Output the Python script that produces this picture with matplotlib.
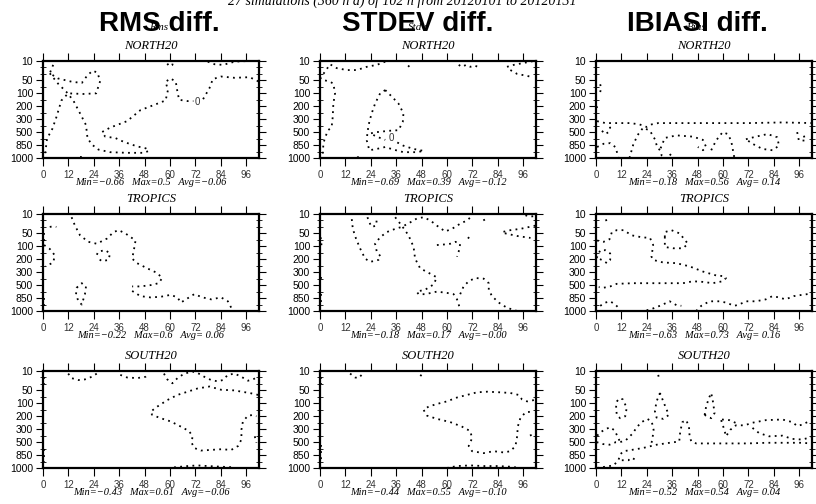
import numpy as np
import matplotlib.pyplot as plt

# pressure levels (plotted by index, 10 hPa at top)
levels = [10, 20, 30, 50, 70, 100, 150, 200, 250, 300, 400, 500, 700, 850, 925, 1000]
label_levels = [10, 50, 100, 200, 300, 500, 850, 1000]
hours = [0, 12, 24, 36, 48, 60, 72, 84, 96]

columns = ['RMS diff.', 'STDEV diff.', 'IBIASI diff.']
subnames = ['Rms', 'Stdv', 'Bias']
regions = ['NORTH20', 'TROPICS', 'SOUTH20']

stats = [
    ['Min=\u22120.66   Max=0.5   Avg=\u22120.06', 'Min=\u22120.69   Max=0.39   Avg=\u22120.12', 'Min=\u22120.18   Max=0.56   Avg= 0.14'],
    ['Min=\u22120.22   Max=0.6   Avg= 0.06', 'Min=\u22120.18   Max=0.17   Avg=\u22120.00', 'Min=\u22120.63   Max=0.73   Avg= 0.16'],
    ['Min=\u22120.43   Max=0.61   Avg=\u22120.06', 'Min=\u22120.44   Max=0.55   Avg=\u22120.10', 'Min=\u22120.52   Max=0.54   Avg= 0.04'],
]

# zero contours: (forecast hour, level index)
rms_north = [
    [(4.8,0.6),(3.2,1.9),(7.1,2.7),(13.5,3.2),(18.3,3.4),(21,2.2),(23.5,1.5),(25.7,1.8),(27,3.1),(25.1,5.0),(19,5.1),(11.9,5.0),(8.7,6.1),(6.3,8.7),(4.4,10.5),(1.9,12.0),(0.8,14.9)],
    [(3.2,1.9),(7.1,3.5),(11.1,4.8),(14.3,6.1),(17.5,8.1),(20.3,9.9),(21,11.9),(23,12.9),(26.2,13.7),(31.7,14.1),(39.7,14.2),(47.6,14.2),(50,13.9),(48.5,13.5),(44.4,13.2),(38.1,12.5),(34.1,11.9),(29.4,11.7),(27.8,11.0),(31.7,10.3),(39.7,9.3),(46,7.6),(53.2,6.7),(57.9,6.1),(59,4.5),(57.9,3.2),(60.3,2.7),(62.7,3.2),(63.5,4.8),(64.3,6.0),(68.3,6.2),(71,6.2)],
    [(75.6,5.9),(78.6,4.2),(80.2,2.8),(84.1,2.4),(90.5,2.6),(97.6,2.5),(102,3.2)],
    [(58.7,0.4),(59.5,0.8),(61.1,0.6),(61.3,0.3)],
    [(77.8,0.1),(81,0.5),(84.9,0.6),(87.3,0.4),(90.5,0.1),(96.8,0.0),(102,0.0)],
    [(17.5,14.85),(18.5,14.85)],
]
std_north = [
    [(30.8,0.1),(26.8,0.6),(22.1,0.9),(17.4,1.4),(12.6,1.4),(7.9,1.1),(4.7,0.5),(3.5,1.1),(1.6,2.0),(0.3,2.7)],
    [(2.4,3.0),(4.7,3.2),(6.3,3.5),(7.1,5.0),(6.3,6.6),(6,8.7),(5.5,10.2),(3.9,10.7),(2.4,11.8),(1.6,12.8),(1.3,14.4),(1.3,14.9)],
    [(30.8,4.5),(33.9,5.5),(37.1,6.6),(39.4,8.1),(39.1,9.4),(37.1,10.7),(32.3,10.8),(26.8,11.0),(23.7,11.2),(26.8,11.7),(30.8,12.2)],
    [(36.5,12.6),(39.4,13.1),(44.2,13.6),(48.9,13.9)],
    [(30.8,4.5),(28.4,5.0),(26,6.6),(24.4,8.1),(23.3,9.4),(22.4,11.0),(22.1,12.3),(23.3,13.8),(26.8,13.6),(30.8,13.3),(34.7,13.7),(39.4,14.1),(45.7,14.1),(48.9,13.9)],
    [(41.6,0.7),(42.2,0.9)],
    [(65.5,0.6),(67,0.9),(69,0.6),(71,0.9),(73,0.7),(74.5,0.9)],
    [(88.3,0.9),(91.5,0.6),(96.2,0.3),(100.9,0.0)],
    [(89.9,1.4),(93.1,2.0),(97.8,2.3),(100.2,2.5)],
    [(17.5,14.9),(18.5,14.85)],
]
bias_north = [
    [(2.0,3.6),(2.4,4.3),(1.8,5.0)],
    [(0.3,7.0),(0.6,7.4)],
    [(0.5,9.3),(4.4,9.6),(9.8,9.6),(16.1,9.6),(20.5,9.8),(23.9,10.2),(26.3,9.8),(29.4,9.6),(41.1,9.6),(56.7,9.6),(72.3,9.6),(88,9.5),(102,9.6)],
    [(15.8,15.0),(17.7,12.8),(20,11.3),(22.3,10.3),(25.5,10.8),(27.8,12.1),(28.9,13.3),(30.2,13.8),(31,14.6),(32.5,14.9)],
    [(2.8,10.8),(4.4,11.3),(5.9,11.0),(6.7,10.3),(5.2,10.0)],
    [(0.5,13.3),(3.6,12.8),(6.7,12.7),(9.1,13.3),(10.2,14.4),(10.6,15.0)],
    [(34.8,14.4),(36.4,14.9)],
    [(30.5,13.5),(32.5,11.9),(38,11.5),(45.8,11.7),(50.5,12.2),(52,13.3),(50.5,13.8),(48.1,13.3)],
    [(54.4,13.8),(56.7,12.3),(59.8,11.0),(62.2,11.3),(63.8,12.3),(65.3,14.9)],
    [(70.8,12.1),(75.5,11.7),(81,11.3),(85.6,11.8),(86.4,13.1),(83.3,13.8),(78.6,13.6),(73.9,12.8),(70.8,12.1)],
    [(95,11.0),(95.8,12.3),(98.9,12.3),(98.1,11.5)],
]
rms_trop = [
    [(3.2,2.0),(4.8,1.9),(6.3,2.0)],
    [(0.4,3.0),(0.4,4.5)],
    [(0.4,13.0),(0.4,14.5)],
    [(0.5,4.8),(3.2,5.4),(5.6,6.4),(4.8,7.5),(2.4,7.9),(1.2,8.1)],
    [(13.5,0.5),(15.1,1.8),(17.5,3.3),(21.4,4.3),(25.4,4.6),(30.2,3.8),(33.3,2.8),(35.7,2.5),(38.9,3.0),(43.7,4.1),(42.9,5.6),(42.1,6.9),(44.4,7.6),(49.2,8.4),(53.8,9.1),(56.3,9.9),(54.6,10.7),(50.8,11.0),(46,11.2),(42.1,11.2)],
    [(42.1,11.9),(46,12.7),(50.8,12.9),(55.6,12.8),(60.3,12.5),(63.5,12.9),(65.1,13.7),(67.5,13.2),(71.4,12.4),(75.4,12.9),(79.4,13.2),(84.1,12.9),(87.3,13.5),(88.9,14.5),(90.5,15)],
    [(25.4,6.3),(26.2,5.8),(29.4,5.6),(31.7,6.1),(30.9,7.1),(27.8,7.3),(26.2,6.9)],
    [(15.9,11.4),(18.3,10.7),(20.3,11.2),(19.8,12.4),(18.3,14.0),(16.7,13.5),(15.6,12.4),(15.9,11.4)],
]
std_trop = [
    [(0.3,3.6),(0.8,5.1)],
    [(0.3,9.7),(0.3,10.1)],
    [(0.3,12.4),(0.3,14.2)],
    [(15,0.8),(15.5,2.3),(17,3.8),(18.9,5.3),(21.3,6.9),(23.7,7.4),(27.6,7.1),(28.7,6.6),(26.8,5.8),(26,4.6),(28.4,3.6),(31.5,2.8),(35.5,2.3),(38.6,2.0),(42.6,1.3),(45.7,0.7),(48.9,0.5),(52.1,1.0),(55.2,1.8),(59.1,2.7),(62.3,2.3),(66.2,1.5),(69.4,1.0),(71.8,0.3)],
    [(22.4,0.5),(23.3,1.3),(24.4,2.0),(26.5,1.8),(26.8,0.8)],
    [(35.5,0.5),(38.6,1.8),(41.8,3.3),(44.2,5.1),(44.9,6.9),(47.3,8.4),(51.3,9.1),(55.2,9.8),(53.6,10.9),(49.7,11.7),(45.7,12.0),(46.5,12.4),(49.7,12.4),(55.2,12.0),(59.9,12.2),(63.1,12.4),(64.7,13.2),(65.5,14.0),(66.2,14.8)],
    [(66.2,12.4),(67.8,11.2),(70.2,10.4),(73.3,9.9),(77.3,10.0),(79.7,10.7),(79.7,11.7),(81.2,12.7),(84.4,13.7),(88.3,14.5),(93.1,15.0)],
    [(55.2,4.8),(59.1,4.7),(61.5,4.6),(63.9,4.3),(66.2,4.6),(65.5,5.8),(64.7,6.6)],
    [(69.8,3.6),(71.0,3.9),(70.4,4.3)],
    [(77.3,0.8),(78.1,1.3)],
    [(101.7,1.8),(94.6,2.3),(89.9,2.5),(86,2.8),(87.5,3.0),(93.1,3.4),(99.4,3.7)],
    [(97,0.2),(99.4,0.4),(101.7,0.3)],
]
bias_trop = [
    [(4.4,1.0),(5.5,0.9)],
    [(0.2,1.5),(0.2,2.5)],
    [(0.5,4.1),(3.6,4.3),(6.4,3.9),(7.5,2.8),(9.8,2.5),(13,2.5),(16.9,3.3),(21.6,3.6),(25.5,3.7),(27,4.8),(26.2,6.6),(27,7.1),(31.7,7.5),(37.9,7.6),(44.2,8.1),(50.5,8.9),(56.7,9.5),(59.8,9.6),(61.4,9.9),(59.8,10.4),(55.1,10.7),(50.5,10.5),(45.8,10.4),(41.1,10.7),(33.3,10.7),(25.5,10.7),(17.7,10.7),(9.8,10.8),(6.7,11.2),(3.6,11.4),(1.3,11.3)],
    [(0.3,6.8),(2,5.6),(4.4,5.6),(6.7,6.1),(6.7,7.1),(5.2,7.6),(2.7,7.1),(1.3,6.9)],
    [(32.5,3.6),(32.5,2.8),(35.6,2.5),(39.5,3.0),(43.4,4.6),(41.1,5.3),(36.4,5.3),(32.5,5.1),(32.5,3.6)],
    [(2,14.2),(4.4,13.7),(6.7,13.5),(9.1,14.0),(10.6,14.5),(11,15)],
    [(23.9,14.9),(27,14.6),(30.9,14.1),(34.8,13.5),(38,14.1),(40.3,14.2)],
    [(47.3,15),(49.7,14.2),(53.6,13.5),(58.3,13.5),(61.4,13.7),(65.3,14.2),(67.6,14.0),(70.8,13.5),(75.5,13.5),(80.2,13.2),(83.3,12.7),(86.4,12.9),(89.5,13.2),(93.4,12.7),(97.3,12.5),(102,12.3)],
]
rms_south = [
    [(11.9,0.4),(13.5,1.1),(16.7,1.4),(19.8,1.3),(23,0.9),(25.4,0.4)],
    [(36.5,0.6),(39.7,1.0),(44.4,1.1),(48.4,0.9),(50,0.4)],
    [(57.1,0.4),(58.7,1.3),(61.1,1.9),(63.5,1.1),(66.7,0.4),(70.6,0.1),(73,0.3),(76.2,0.9),(79.4,1.4),(82.5,1.6),(84.9,1.4),(87.3,0.6),(90.5,0.4),(93.7,0.9),(96.8,1.5),(99.2,1.3),(100.8,1.0)],
    [(101.6,3.7),(97.6,3.4),(93.7,3.2),(90.5,3.0),(84.1,2.9),(78.6,2.4),(73,2.7),(68.3,3.2),(63.5,3.7),(58.7,4.5),(54,5.5),(50.8,6.3),(51.6,6.8),(55.6,7.3),(60.3,7.8),(65.1,8.6),(69,9.3),(70.6,10.1),(70.2,11.1),(71.4,11.9),(74.6,12.3),(79.4,12.2),(84.1,12.1),(88.9,12.2),(92.1,11.6),(93.7,10.6),(93.7,9.1),(94.4,7.8),(96.8,6.9),(99.2,6.8),(100.8,7.0)],
    [(100,10.1),(100.8,11.1)],
    [(61.9,14.9),(68.3,14.7),(73,14.6),(77.8,14.7),(84.1,14.8),(90.5,14.9)],
    [(0.4,1.0),(0.4,2.0)],
    [(0.4,12.0),(0.4,14.0)],
]
std_south = [
    [(14.2,0.4),(16.6,1.0),(18.1,1.1),(19.7,0.6),(21.3,0.3)],
    [(47.3,0.6),(48.6,0.9)],
    [(101,4.5),(97.8,4.7),(95.4,4.4),(93.8,3.7),(89.9,3.4),(85.2,3.3),(78.9,3.2),(74.1,3.3),(69.4,3.7),(64.7,4.1),(59.9,4.7),(55.2,5.1),(51.3,5.5),(48.9,6.0),(50.5,6.9),(55.2,7.4),(61.5,7.9),(67,8.6),(71,9.3),(71.8,10.4),(70.2,11.6),(71.8,12.4),(77.3,12.7),(82,12.4),(86.8,12.6),(89.9,12.4),(92.3,11.6),(93.1,10.1),(93.4,8.6),(94.6,7.3),(97,6.4),(99.4,6.3)],
    [(99.4,9.8),(100.2,10.6)],
    [(59.9,15),(64.7,14.7),(71,14.6),(77.3,14.7),(83.6,14.7),(89.9,14.8),(94.6,15)],
    [(0.3,1.0),(0.3,2.0)],
    [(0.3,11.5),(0.3,14.0)],
]
bias_south = [
    [(9.8,4.7),(11.4,4.2),(12.7,4.4),(14.5,5.7),(13.8,7.0),(11.4,7.3),(9.8,6.8),(9.5,5.5),(9.8,4.7)],
    [(29.4,0.6),(29.8,1.3)],
    [(30.2,3.4),(28.6,4.7),(27.8,6.2),(28.6,7.2),(31.7,7.4),(34.4,6.8),(32.5,5.3),(30.2,3.4)],
    [(51.3,6.8),(52,5.5),(53.3,4.2),(54.4,3.4),(55.2,4.7),(56,6.5),(54.4,7.3),(51.3,6.8)],
    [(0.5,10.0),(2.5,9.4),(4.4,9.0),(6.7,8.7),(8.8,9.2),(10.3,10.2),(11.4,11.0)],
    [(0.3,11.0),(3.3,11.3),(6.4,11.4),(9.4,11.0),(11.4,11.0),(14.1,10.7),(17.2,9.7),(19.5,8.6),(21.6,7.9),(24.2,7.4),(26.3,7.8),(27.2,9.1),(26.6,10.6),(25.9,11.5)],
    [(0.5,15.0),(4.4,14.8),(8.3,14.6),(10.6,13.8),(11.4,12.9),(13,12.4),(16.9,12.2),(22.3,11.9),(28.6,11.4),(34.8,11.1),(39.3,10.9),(39.8,9.3),(40.8,7.9),(42.6,7.6),(43.9,8.6),(44.2,10.1),(45,10.9),(47.3,11.2),(53.6,11.2),(62,11.2),(71.4,11.2),(80.8,11.1),(90.2,11.1),(96.5,11.1),(102,11.2)],
    [(12.2,13.8),(15.3,13.8),(16.9,13.4),(18.4,13.7),(18.9,14.1)],
    [(59.1,7.6),(60.6,9.1),(61.4,10.1),(63.4,9.1),(66.1,8.4),(70.2,8.4),(73.9,8.0),(80.2,7.6),(88,7.5),(92.7,7.9),(95,8.5),(97.3,8.3),(100.5,7.8)],
    [(59.5,7.5),(63,7.6),(66.5,8.1)],
    [(73.9,8.8),(77,9.6),(81.7,10.1),(88,10.0),(92.7,10.5),(97.3,10.6),(102,10.2)],
]

panels = [[rms_north, std_north, bias_north],
          [rms_trop, std_trop, bias_trop],
          [rms_south, std_south, bias_south]]
# "0" contour labels: (row, col, hour, level index)
zero_labels = [(0, 0, 73, 6.3), (0, 1, 33.9, 11.9)]

serif = 'Liberation Serif'
sans = 'Liberation Sans'

W, H = 816, 504
fig = plt.figure(figsize=(W / 100, H / 100), dpi=100)

col_left = [43, 320, 596]
row_top = [61, 214, 371]
aw, ah = 216, 97

fig.text(402 / W, 1 - 1 / H, '27 simulations (360 h d) of 102 h from 20120101 to 20120131',
         ha='center', va='center', fontsize=10, style='italic', family=serif)
head_x = [159, 418, 697]
for j in range(3):
    fig.text(head_x[j] / W, 1 - 27 / H, subnames[j], ha='center', va='center',
             fontsize=8, style='italic', family=serif)
    fig.text(head_x[j] / W, 1 - 24 / H, columns[j], ha='center', va='center',
             fontsize=20, weight='bold', family=sans)

lvl_idx = np.arange(len(levels))
major_idx = [levels.index(p) for p in label_levels]

for r in range(3):
    for c in range(3):
        ax = fig.add_axes([col_left[c] / W, 1 - (row_top[r] + ah) / H, aw / W, ah / H])
        for line in panels[r][c]:
            xy = np.array(line)
            ax.plot(xy[:, 0], xy[:, 1], color='black', lw=1.3,
                    linestyle=(0, (1, 2.4)), dash_capstyle='butt')
        ax.set_xlim(0, 102)
        ax.set_ylim(15, 0)
        ax.set_xticks(hours)
        ax.set_xticklabels([str(h) for h in hours], fontsize=7, family=sans, color='#333333')
        ax.set_yticks(major_idx)
        ax.set_yticklabels([str(p) for p in label_levels], fontsize=7.5, family=sans)
        ax.set_yticks(lvl_idx, minor=True)
        ax.tick_params(axis='x', which='major', direction='out', length=5.8, width=0.8,
                       top=True, bottom=True, pad=2.5)
        ax.tick_params(axis='y', which='major', direction='out', length=5, width=0.8,
                       left=True, right=True, pad=2)
        ax.tick_params(axis='y', which='minor', direction='inout', length=4, width=0.6,
                       left=True, right=True)
        for s in ax.spines.values():
            s.set_linewidth(1.6)
        ax.text(0.5, 1.09, regions[r], transform=ax.transAxes, ha='center', va='bottom',
                fontsize=9, style='italic', family=serif)
        ax.text(0.5, -0.25, stats[r][c], transform=ax.transAxes, ha='center', va='center',
                fontsize=7.5, style='italic', family=serif)

for r, c, hx, ly in zero_labels:
    ax = fig.axes[r * 3 + c]
    ax.text(hx, ly, '0', ha='center', va='center', fontsize=7, color='#333333', family=sans)

plt.savefig('out.png', dpi=100)
